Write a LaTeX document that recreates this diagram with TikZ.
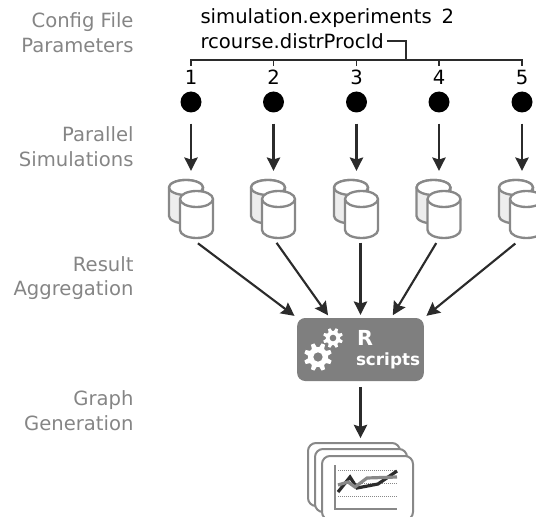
\documentclass[tikz,border=0pt]{standalone}
\usepackage{fontspec}
\setmainfont{DejaVu Sans}
\usetikzlibrary{arrows.meta,calc}

\definecolor{labelgray}{HTML}{858585}
\definecolor{stackgray}{HTML}{888888}
\definecolor{boxgray}{HTML}{7F7F7F}
\definecolor{darkline}{HTML}{2B2B2B}

\tikzset{every picture/.style={line width=0.75pt}}
\tikzset{
  steplabel/.style={anchor=east,inner sep=0pt,align=right,text=labelgray,font=\fontsize{14.7}{18.6}\selectfont},
  paramlabel/.style={anchor=west,inner sep=0pt,font=\fontsize{14.7}{16}\selectfont},
  runlabel/.style={inner sep=0pt,font=\fontsize{14.7}{16}\selectfont},
  rundot/.style={circle,fill=black,inner sep=0pt,minimum size=15.75pt},
  stacknode/.style={inner sep=0pt,minimum width=33.75pt,minimum height=43.5pt},
  bracketline/.style={draw=darkline,line width=0.85pt},
  flow/.style={draw=darkline,line width=1.6pt,-{Stealth[length=10pt,width=10pt,inset=1.5pt]}},
  cylback/.style={draw=stackgray,line width=1.75pt,fill=black!7},
  cylfront/.style={draw=stackgray,line width=1.75pt,fill=white},
  chartcard/.style={draw=stackgray,line width=1.5pt,fill=white,rounded corners=6pt},
  pics/dbstack/.style={code={
    %back cylinder
    \path [cylback] (-22.5,21.5) arc[start angle=180,end angle=0,x radius=17,y radius=7.5] -- (11.5,-7) arc[start angle=0,end angle=-180,x radius=17,y radius=7.5] -- cycle ;
    \draw [cylback,fill=white] (-22.5,21.5) arc[start angle=180,end angle=360,x radius=17,y radius=7.5] arc[start angle=0,end angle=180,x radius=17,y radius=7.5] ;
    %front cylinder
    \path [cylfront] (-11.5,10) arc[start angle=180,end angle=0,x radius=16.5,y radius=8] -- (21.5,-21) arc[start angle=0,end angle=-180,x radius=16.5,y radius=8] -- cycle ;
    \draw [cylfront] (-11.5,10) arc[start angle=180,end angle=360,x radius=16.5,y radius=8] ;
  }},
  pics/gearwheel/.style={code={
    \fill [white] (0,0) circle (0.72) ;
    \foreach \a in {0,45,...,315} {
      \fill [white,rotate=\a+22.5] (0.6,-0.2) -- (1,-0.13) -- (1,0.13) -- (0.6,0.2) -- cycle ;
    }
    \fill [boxgray] (0,0) circle (0.33) ;
  }},
}

\begin{document}
\begin{tikzpicture}[x=0.75pt,y=0.75pt,yscale=-1,xscale=1]
\useasboundingbox (0,0) rectangle (536,517);

% Step labels
\node (lblconfig) [steplabel] at (134,32.5) {Config File\\Parameters};
\node (lblparallel) [steplabel] at (134,147) {Parallel\\Simulations};
\node (lblresult) [steplabel] at (134,278) {Result\\Aggregation};
\node (lblgraph) [steplabel] at (134,411) {Graph\\Generation};

% Parameter text
\node (paramexp) [paramlabel] at (200,18) {simulation.experiments\hspace{7.5pt}2};
\node (paramproc) [paramlabel] at (200,41) {rcourse.distrProcId};

% Run numbers
\node (num1) [runlabel] at (191,77) {1};
\node (num2) [runlabel] at (273.5,77) {2};
\node (num3) [runlabel] at (356.5,77) {3};
\node (num4) [runlabel] at (439,77) {4};
\node (num5) [runlabel] at (522,77) {5};

% Bracket
\coordinate (bracketleft) at (191,60);
\coordinate (bracketright) at (522,60);
\coordinate (bracketjoin) at (406,60);
\coordinate (tick1) at (191,66);
\coordinate (tick2) at (273.5,66);
\coordinate (tick3) at (356.5,66);
\coordinate (tick4) at (439,66);
\coordinate (tick5) at (522,66);
\draw [bracketline] (tick1) -- (bracketleft) -- (bracketright) -- (tick5) ;
\draw [bracketline] (tick2) -- (tick2 |- bracketleft) ;
\draw [bracketline] (tick3) -- (tick3 |- bracketleft) ;
\draw [bracketline] (tick4) -- (tick4 |- bracketleft) ;
\draw [bracketline] ([xshift=2pt]paramproc.east) -| (bracketjoin) ;

% Runs
\node (dot1) [rundot] at (191,102) {};
\node (dot2) [rundot] at (273.5,102) {};
\node (dot3) [rundot] at (356.5,102) {};
\node (dot4) [rundot] at (439,102) {};
\node (dot5) [rundot] at (522,102) {};

% Result stores
\node (db1) [stacknode] at (191.5,209) {};
\node (db2) [stacknode] at (273.5,209) {};
\node (db3) [stacknode] at (356.5,209) {};
\node (db4) [stacknode] at (439,209) {};
\node (db5) [stacknode] at (521.5,209) {};
\pic at (db1) {dbstack};
\pic at (db2) {dbstack};
\pic at (db3) {dbstack};
\pic at (db4) {dbstack};
\pic at (db5) {dbstack};

% R box
\node (rbox) [fill=boxgray,rounded corners=6pt,minimum width=95pt,minimum height=47.25pt,inner sep=0pt] at (360.5,349.5) {};
\node (rlabel) [anchor=west,inner sep=0pt,text=white,font=\bfseries\fontsize{15.5}{18}\selectfont] at (356.5,337.5) {R};
\node (scriptslabel) [anchor=west,inner sep=0pt,text=white,font=\bfseries\fontsize{12.6}{15}\selectfont] at (355.5,361) {scripts};
\pic at (318,357) [scale=14] {gearwheel};
\pic at (333,338) [scale=10] {gearwheel};

% Output charts
\node (charts) [inner sep=0pt,minimum width=76.5pt,minimum height=54pt] at (360.5,480) {};
\draw [chartcard] (308,443) rectangle (400,506) ;
\draw [chartcard] (315,449) rectangle (407,512) ;
\draw [chartcard] (322,456) rectangle (413,520) ;
\draw [stackgray,densely dotted,line width=0.5pt] (338,470) -- (397,470) ;
\draw [stackgray,densely dotted,line width=0.5pt] (338,483) -- (397,483) ;
\draw [stackgray,densely dotted,line width=0.5pt] (338,496) -- (397,496) ;
\draw [darkline,line width=2.4pt] (338,492) -- (350,477) -- (357,488) -- (378,484) -- (397,471) ;
\draw [stackgray,line width=2.4pt] (338,485) -- (348,482) -- (355,487) -- (367,478) -- (397,477) ;
\draw [stackgray,line width=2pt] (335,465) -- (335,509) -- (397,509) ;

% Connectors
\draw [flow,shorten <=8pt,shorten >=6.5pt] (dot1) -- (db1.north -| dot1) ;
\draw [flow,shorten <=8pt,shorten >=6.5pt] (dot2) -- (db2.north -| dot2) ;
\draw [flow,shorten <=8pt,shorten >=6.5pt] (dot3) -- (db3.north -| dot3) ;
\draw [flow,shorten <=8pt,shorten >=6.5pt] (dot4) -- (db4.north -| dot4) ;
\draw [flow,shorten <=8pt,shorten >=6.5pt] (dot5) -- (db5.north -| dot5) ;
\draw [flow,shorten <=6pt,shorten >=2pt] (db1.south) -- (rbox.north west) ;
\draw [flow,shorten <=4pt,shorten >=2pt] (db2.south) -- (rbox.134) ;
\draw [flow,shorten <=3pt,shorten >=2pt] (rbox.north |- db3.south) -- (rbox.north) ;
\draw [flow,shorten <=4pt,shorten >=2pt] (db4.south) -- (rbox.46) ;
\draw [flow,shorten <=6pt,shorten >=2pt] (db5.south) -- (rbox.north east) ;
\draw [flow,shorten <=4pt,shorten >=4pt] (rbox) -- (charts) ;

\end{tikzpicture}
\end{document}
